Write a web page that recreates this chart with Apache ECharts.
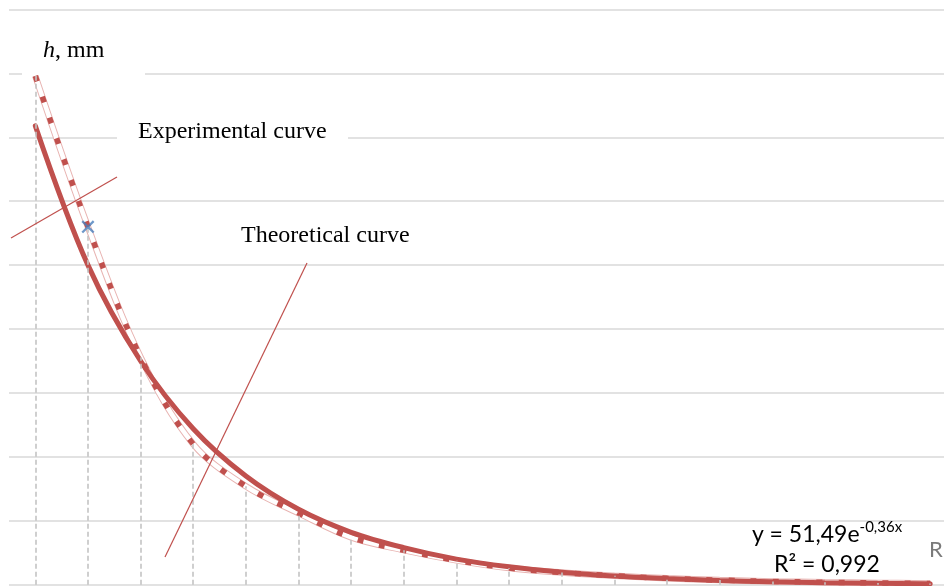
<!DOCTYPE html>
<html><head><meta charset="utf-8">
<script src="https://cdn.jsdelivr.net/npm/echarts@6/dist/echarts.min.js"></script>
<style>html,body{margin:0;padding:0;background:#fff}#c{width:944px;height:586px}</style>
</head><body><div id="c"></div>
<script>
const xValues = [1,2,3,4,5,6,7,8,9,10,11,12,13,14,15,16,17,18];
const experimental = [39.8, 28.0, 17.8, 11.0, 7.7, 5.6, 3.7, 2.7, 1.9, 1.3, 0.95, 0.7, 0.5, 0.36, 0.26, 0.19, 0.14, 0.1];
const theoretical = [35.9, 25.0, 17.5, 12.2, 8.5, 5.9, 4.1, 2.9, 2.0, 1.4, 0.98, 0.68, 0.48, 0.33, 0.23, 0.16, 0.11, 0.08];
const markedIndex = [1];
const yAxisTitle = 'h';
const yAxisUnit = ', mm';
const expLabel = 'Experimental curve';
const theoLabel = 'Theoretical curve';
const eqMain = 'y = 51,49e';
const eqSup = '-0,36x';
const eqR2 = 'R² = 0,992';
const edgeLabel = 'R';

const expPairs = xValues.map((x, i) => [x, experimental[i]]);
const theoPairs = xValues.map((x, i) => [x, theoretical[i]]);
const markPairs = markedIndex.map(i => [xValues[i], experimental[i]]);
const dropLines = expPairs.map(p => [{coord: [p[0], 0]}, {coord: [p[0], p[1]]}]);

const RED = '#c0504d';
const serif = '"Liberation Serif", "DejaVu Serif", serif';

const chart = echarts.init(document.getElementById('c'), null, {renderer: 'canvas'});
chart.setOption({
  animation: false,
  backgroundColor: '#ffffff',
  grid: {left: 9, right: 0, top: 9.5, bottom: 1.3},
  xAxis: {
    type: 'value', min: 0.5, max: 18.262,
    axisLine: {show: false}, axisTick: {show: false}, axisLabel: {show: false},
    splitLine: {show: false}
  },
  yAxis: {
    type: 'value', min: 0, max: 45, interval: 5,
    axisLine: {show: false}, axisTick: {show: false}, axisLabel: {show: false},
    splitLine: {show: true, lineStyle: {color: '#d9d9d9', width: 1.6}}
  },
  series: [
    {
      type: 'line', data: expPairs, symbol: 'none', silent: true, z: 2,
      lineStyle: {opacity: 0},
      markLine: {
        silent: true, symbol: ['none', 'none'], label: {show: false},
        lineStyle: {color: '#c4c4c4', width: 1.6, type: [5, 3]},
        data: dropLines
      }
    },
    {
      type: 'line', data: expPairs, symbol: 'none', smooth: 0.35, z: 3, silent: true,
      lineStyle: {color: '#e8b4b2', width: 6.5}
    },
    {
      type: 'line', data: expPairs, symbol: 'none', smooth: 0.35, z: 3, silent: true,
      lineStyle: {color: '#ffffff', width: 4.5}
    },
    {
      type: 'line', data: expPairs, symbol: 'none', smooth: 0.35, z: 3, silent: true,
      lineStyle: {color: RED, width: 5.5, type: [6, 16]}
    },
    {
      type: 'line', data: theoPairs, symbol: 'none', smooth: 0.35, z: 4, silent: true,
      lineStyle: {color: RED, width: 5, cap: 'round'}
    },
    {
      type: 'scatter', data: markPairs, z: 6, silent: true,
      symbol: 'path://M1.5,0 L6,4.5 L10.5,0 L12,1.5 L7.5,6 L12,10.5 L10.5,12 L6,7.5 L1.5,12 L0,10.5 L4.5,6 L0,1.5 Z',
      symbolSize: 13,
      itemStyle: {color: '#4a7ebb'}
    }
  ],
  graphic: [
    {type: 'rect', z: 1, silent: true, shape: {x: 22, y: 24, width: 123, height: 54}, style: {fill: '#ffffff'}},
    {type: 'rect', z: 1, silent: true, shape: {x: 117, y: 108, width: 231, height: 42}, style: {fill: '#ffffff'}},
    {type: 'text', z: 7, silent: true, x: 43, y: 51,
      style: {
        text: '{i|' + yAxisTitle + '}{n|' + yAxisUnit + '}',
        verticalAlign: 'middle', align: 'left',
        rich: {
          i: {fontFamily: serif, fontSize: 24, fontStyle: 'italic', fill: '#000'},
          n: {fontFamily: serif, fontSize: 24, fill: '#000'}
        }
      }
    },
    {type: 'text', z: 7, silent: true, x: 138, y: 132,
      style: {text: expLabel, font: '24px ' + serif, fill: '#000', verticalAlign: 'middle', align: 'left'}},
    {type: 'text', z: 7, silent: true, x: 241, y: 236,
      style: {text: theoLabel, font: '24px ' + serif, fill: '#000', verticalAlign: 'middle', align: 'left'}},
    {type: 'line', z: 7, silent: true, shape: {x1: 11, y1: 238, x2: 117, y2: 177}, style: {stroke: RED, lineWidth: 1.2}},
    {type: 'line', z: 7, silent: true, shape: {x1: 165, y1: 557, x2: 307, y2: 263}, style: {stroke: RED, lineWidth: 1.2}},
    {type: 'text', z: 7, silent: true, x: 827, y: 550,
      style: {
        text: '{m|' + eqMain + '}{s|' + eqSup + '}\n{m|' + eqR2 + '}',
        align: 'center', verticalAlign: 'middle',
        rich: {
          m: {fontFamily: 'Lato, "Open Sans", sans-serif', fontSize: 23, lineHeight: 30, fill: '#000'},
          s: {fontFamily: 'Lato, "Open Sans", sans-serif', fontSize: 15, lineHeight: 18, verticalAlign: 'top', fill: '#000'}
        }
      }
    },
    {type: 'text', z: 7, silent: true, x: 929, y: 550,
      style: {text: edgeLabel, font: '22px Lato, "Open Sans", sans-serif', fill: '#7a7a7a', verticalAlign: 'middle', align: 'left'}}
  ]
});
</script>
</body></html>
